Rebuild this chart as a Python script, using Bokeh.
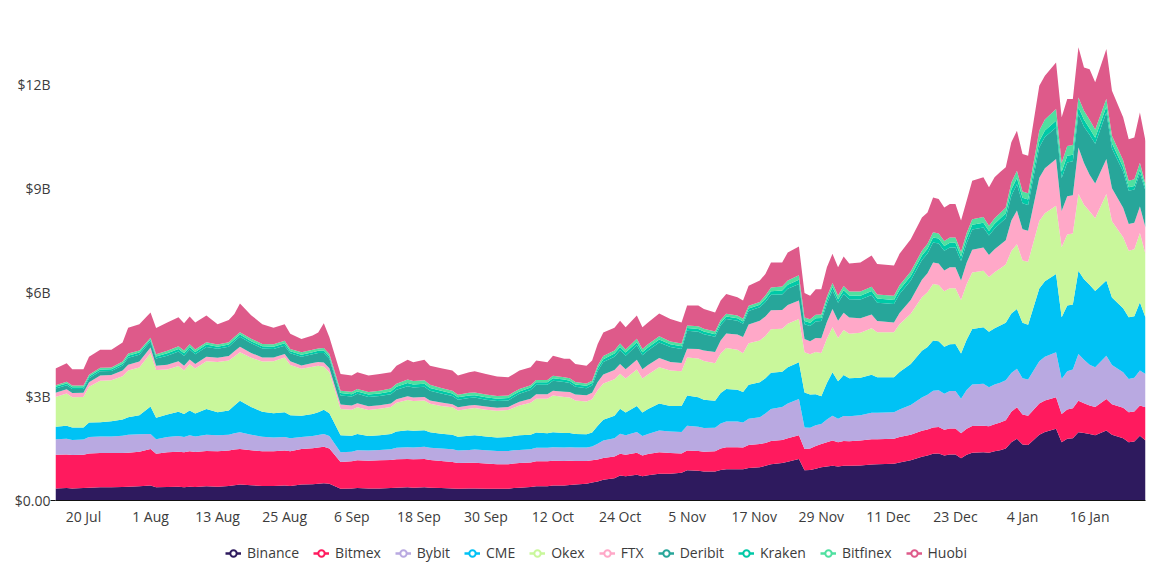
import pandas as pd
from bokeh.plotting import figure
from bokeh.layouts import column
from bokeh.models import (ColumnDataSource, Range1d, FixedTicker, Legend, LegendItem,
                          LinearAxis)
from bokeh.embed import file_html
from bokeh.resources import INLINE

# ---- data (open interest, billions of USD) ----
dates = [
    "2020-07-15","2020-07-17","2020-07-18","2020-07-20","2020-07-21","2020-07-23","2020-07-25","2020-07-27","2020-07-28","2020-07-30",
    "2020-08-01","2020-08-02","2020-08-04","2020-08-06","2020-08-07","2020-08-08","2020-08-09","2020-08-11","2020-08-13","2020-08-15",
    "2020-08-16","2020-08-17","2020-08-19","2020-08-21","2020-08-23","2020-08-25","2020-08-26","2020-08-28","2020-08-30","2020-08-31",
    "2020-09-01","2020-09-02","2020-09-04","2020-09-06","2020-09-07","2020-09-09","2020-09-11","2020-09-13","2020-09-14","2020-09-16",
    "2020-09-17","2020-09-19","2020-09-20","2020-09-22","2020-09-24","2020-09-25","2020-09-27","2020-09-28","2020-09-30","2020-10-02",
    "2020-10-04","2020-10-05","2020-10-06","2020-10-08","2020-10-09","2020-10-11","2020-10-12","2020-10-14","2020-10-15","2020-10-16",
    "2020-10-18","2020-10-19","2020-10-20","2020-10-21","2020-10-23","2020-10-24","2020-10-25","2020-10-27","2020-10-28","2020-10-29",
    "2020-10-31","2020-11-02","2020-11-04","2020-11-05","2020-11-07","2020-11-08","2020-11-10","2020-11-11","2020-11-12","2020-11-14",
    "2020-11-15","2020-11-16","2020-11-18","2020-11-19","2020-11-20","2020-11-22","2020-11-23","2020-11-25","2020-11-26","2020-11-27",
    "2020-11-28","2020-11-29","2020-11-30","2020-12-01","2020-12-02","2020-12-03","2020-12-04","2020-12-06","2020-12-08","2020-12-09",
    "2020-12-12","2020-12-13","2020-12-15","2020-12-17","2020-12-18","2020-12-19","2020-12-20","2020-12-21","2020-12-22","2020-12-23",
    "2020-12-24","2020-12-25","2020-12-26","2020-12-28","2020-12-29","2020-12-30","2020-12-31","2021-01-01","2021-01-02","2021-01-03",
    "2021-01-04","2021-01-05","2021-01-07","2021-01-08","2021-01-10","2021-01-11","2021-01-12","2021-01-13","2021-01-14","2021-01-15",
    "2021-01-16","2021-01-17","2021-01-19","2021-01-20","2021-01-22","2021-01-23","2021-01-24","2021-01-25","2021-01-26",
]

binance = [
    .35,.36,.35,.36,.37,.38,.38,.39,.40,.41,
    .43,.38,.39,.40,.38,.40,.39,.41,.40,.42,
    .44,.46,.44,.42,.42,.43,.42,.46,.47,.48,
    .50,.48,.34,.35,.36,.35,.35,.36,.37,.38,
    .37,.38,.37,.36,.35,.34,.35,.35,.34,.34,
    .34,.36,.37,.39,.41,.41,.43,.43,.45,.46,
    .48,.52,.55,.60,.64,.72,.70,.74,.70,.73,
    .77,.77,.80,.87,.86,.84,.84,.88,.90,.90,
    .90,.94,.96,1.00,1.05,1.08,1.12,1.20,.87,.88,
    .92,.96,.98,1.00,.98,1.00,1.00,1.01,1.04,1.05,
    1.06,1.10,1.16,1.26,1.30,1.35,1.36,1.30,1.33,1.33,
    1.22,1.32,1.38,1.39,1.38,1.42,1.45,1.50,1.68,1.78,
    1.62,1.60,1.90,1.98,2.07,1.68,1.78,1.80,1.97,1.95,
    1.92,1.88,2.02,1.90,1.80,1.68,1.70,1.87,1.73,
]
bitmex = [
    .97,.97,.96,.96,.99,.99,.99,.98,.98,1.00,
    1.06,.97,1.00,1.01,1.01,1.02,1.01,1.02,1.02,1.02,
    1.03,1.03,1.01,1.00,1.00,1.01,1.00,1.03,1.04,1.05,
    1.05,1.02,.77,.78,.80,.80,.81,.81,.82,.82,
    .82,.82,.80,.78,.76,.74,.74,.74,.73,.71,
    .71,.71,.71,.71,.72,.72,.72,.71,.70,.68,
    .66,.64,.63,.63,.63,.63,.62,.64,.60,.61,
    .62,.60,.56,.57,.57,.57,.58,.62,.64,.64,
    .63,.66,.67,.66,.67,.67,.68,.68,.62,.62,
    .65,.67,.70,.73,.70,.72,.71,.72,.73,.72,
    .72,.73,.74,.75,.75,.76,.76,.74,.75,.75,
    .72,.75,.77,.77,.76,.78,.80,.82,.88,.91,
    .86,.85,.90,.91,.91,.82,.85,.86,.91,.86,
    .82,.82,.91,.88,.88,.87,.87,.87,.96,
]
bybit = [
    .45,.45,.44,.44,.47,.48,.48,.50,.52,.50,
    .43,.42,.44,.45,.44,.46,.45,.47,.46,.46,
    .47,.48,.45,.42,.40,.39,.38,.34,.35,.36,
    .37,.36,.28,.28,.29,.29,.30,.31,.33,.34,
    .34,.35,.35,.36,.37,.36,.37,.38,.38,.38,
    .38,.38,.38,.38,.39,.39,.39,.39,.39,.39,
    .39,.40,.46,.50,.53,.58,.56,.60,.56,.58,
    .63,.62,.62,.72,.70,.68,.68,.72,.74,.74,
    .72,.76,.77,.85,.92,.95,1.00,1.05,.62,.60,
    .60,.58,.66,.72,.68,.72,.72,.73,.76,.76,
    .77,.80,.86,.96,1.00,1.06,1.06,1.04,1.08,1.08,
    1.00,1.12,1.20,1.21,1.13,1.15,1.15,1.15,1.12,1.11,
    1.05,1.04,1.22,1.26,1.30,1.01,1.10,1.12,1.35,1.25,
    1.18,1.15,1.25,1.13,1.02,.96,.97,1.01,.96,
]
cme = [
    .36,.38,.36,.35,.42,.41,.44,.47,.50,.55,
    .79,.62,.65,.70,.67,.72,.66,.74,.67,.70,
    .80,.91,.80,.72,.70,.72,.66,.62,.64,.66,
    .70,.66,.49,.46,.47,.42,.42,.44,.47,.49,
    .48,.48,.45,.43,.42,.40,.41,.41,.40,.39,
    .40,.41,.42,.42,.44,.42,.43,.42,.41,.39,
    .38,.40,.52,.60,.65,.72,.66,.75,.68,.72,
    .78,.74,.75,.87,.85,.82,.78,.88,.94,.92,
    .88,.98,1.01,1.02,1.05,1.02,1.05,1.06,1.01,.96,
    .90,.80,1.05,1.25,1.08,1.18,1.10,1.08,1.10,1.03,
    1.01,1.08,1.18,1.35,1.38,1.45,1.42,1.36,1.35,1.36,
    1.30,1.45,1.60,1.63,1.60,1.62,1.65,1.66,1.72,1.73,
    1.60,1.58,2.10,2.18,2.26,1.78,1.90,1.88,2.40,2.33,
    2.31,2.20,2.17,1.95,1.85,1.78,1.78,1.97,1.63,
]
okex = [
    .86,.93,.87,.88,1.03,1.20,1.18,1.25,1.35,1.38,
    1.54,1.38,1.30,1.32,1.25,1.33,1.30,1.38,1.45,1.44,
    1.42,1.40,1.42,1.45,1.50,1.58,1.45,1.35,1.36,1.34,
    1.24,1.18,.76,.75,.77,.75,.77,.78,.83,.87,
    .86,.86,.82,.80,.79,.76,.78,.79,.77,.77,
    .78,.82,.86,.92,.98,1.00,1.06,1.04,1.02,.97,
    .95,.96,1.02,1.05,1.05,1.01,.98,1.05,.98,1.00,
    1.05,1.02,1.00,1.10,1.12,1.12,1.08,1.14,1.18,1.15,
    1.12,1.20,1.21,1.22,1.25,1.24,1.25,1.25,1.16,1.16,
    1.22,1.25,1.28,1.30,1.25,1.30,1.28,1.30,1.34,1.30,
    1.30,1.38,1.45,1.55,1.58,1.63,1.62,1.60,1.62,1.61,
    1.55,1.60,1.63,1.63,1.58,1.62,1.65,1.68,1.80,1.87,
    1.80,1.82,1.95,1.96,1.97,2.02,2.05,2.05,2.22,2.15,
    2.12,2.10,2.50,2.20,2.05,1.92,1.93,2.00,1.83,
]
ftx = [
    .12,.12,.12,.12,.13,.15,.15,.16,.17,.17,
    .17,.12,.14,.14,.14,.14,.13,.13,.12,.13,
    .15,.16,.14,.12,.11,.10,.11,.10,.11,.11,
    .12,.12,.13,.12,.12,.11,.10,.10,.10,.11,
    .10,.10,.10,.10,.09,.09,.09,.09,.09,.09,
    .09,.10,.11,.12,.13,.13,.14,.15,.16,.17,
    .18,.19,.24,.26,.27,.28,.27,.28,.27,.27,
    .26,.25,.24,.25,.27,.30,.33,.38,.42,.44,
    .47,.54,.57,.56,.55,.54,.54,.53,.38,.38,
    .40,.42,.48,.53,.50,.50,.47,.42,.40,.32,
    .28,.32,.40,.50,.55,.62,.62,.60,.60,.60,
    .56,.62,.66,.67,.64,.66,.68,.70,.88,.97,
    .90,.90,1.25,1.30,1.35,1.05,1.10,1.10,1.34,1.20,
    1.05,1.00,1.01,.95,.85,.77,.77,.77,.77,
]
deribit = [
    .12,.12,.12,.11,.12,.12,.12,.15,.20,.20,
    .18,.21,.26,.28,.29,.29,.28,.28,.26,.27,
    .28,.29,.28,.26,.24,.24,.23,.25,.25,.26,
    .28,.27,.26,.26,.27,.27,.27,.27,.28,.29,
    .29,.29,.28,.26,.24,.22,.22,.21,.20,.19,
    .19,.21,.23,.25,.27,.27,.29,.28,.26,.22,
    .20,.21,.32,.36,.38,.40,.39,.42,.40,.42,
    .45,.43,.40,.52,.50,.47,.44,.44,.42,.40,
    .38,.39,.39,.42,.45,.45,.47,.48,.43,.44,
    .48,.50,.52,.53,.52,.54,.53,.54,.56,.53,
    .53,.55,.56,.57,.57,.58,.58,.57,.57,.57,
    .56,.57,.58,.58,.56,.60,.62,.64,.72,.76,
    .75,.74,.88,.90,.91,.95,.98,.98,.96,1.05,
    1.16,1.15,1.34,1.15,1.05,.96,.96,.96,1.06,
]
kraken = [
    .05,.05,.05,.05,.05,.05,.05,.05,.06,.06,
    .05,.06,.07,.07,.07,.07,.07,.07,.06,.06,
    .06,.06,.06,.06,.07,.07,.06,.06,.06,.06,
    .07,.07,.07,.07,.07,.07,.07,.08,.08,.09,
    .09,.09,.08,.08,.07,.07,.07,.07,.07,.07,
    .07,.07,.07,.07,.07,.07,.07,.07,.07,.07,
    .07,.07,.08,.08,.09,.09,.09,.09,.09,.09,
    .09,.08,.08,.08,.08,.08,.07,.07,.07,.07,
    .07,.07,.07,.09,.10,.11,.12,.12,.09,.09,
    .09,.09,.10,.10,.10,.11,.11,.11,.12,.12,
    .12,.12,.13,.13,.14,.14,.14,.14,.14,.14,
    .13,.14,.14,.14,.13,.14,.14,.14,.18,.18,
    .16,.16,.18,.19,.19,.18,.19,.19,.20,.20,
    .18,.17,.17,.15,.12,.10,.10,.10,.09,
]
bitfinex = [
    .05,.05,.05,.05,.05,.05,.05,.06,.06,.06,
    .05,.06,.07,.08,.08,.08,.07,.07,.06,.07,
    .07,.07,.07,.07,.07,.07,.06,.07,.07,.07,
    .07,.07,.07,.07,.07,.07,.08,.08,.09,.10,
    .10,.10,.09,.08,.08,.07,.08,.08,.08,.08,
    .07,.07,.07,.07,.07,.07,.07,.07,.07,.07,
    .07,.07,.08,.09,.09,.10,.09,.10,.09,.09,
    .09,.08,.08,.07,.08,.08,.08,.08,.08,.08,
    .08,.08,.08,.10,.11,.12,.12,.13,.10,.10,
    .10,.10,.11,.12,.11,.12,.11,.12,.12,.12,
    .12,.13,.13,.14,.14,.15,.15,.14,.15,.15,
    .14,.15,.16,.16,.15,.16,.16,.17,.20,.21,
    .18,.18,.30,.32,.34,.25,.28,.28,.28,.26,
    .25,.24,.23,.22,.20,.19,.19,.20,.10,
]
huobi = [
    .48,.53,.47,.47,.52,.52,.51,.55,.75,.76,
    .73,.76,.82,.84,.79,.80,.78,.77,.59,.64,
    .66,.83,.68,.57,.48,.48,.44,.38,.41,.46,
    .72,.48,.48,.47,.48,.48,.48,.47,.52,.57,
    .54,.59,.55,.57,.58,.56,.59,.61,.59,.56,
    .53,.52,.53,.52,.56,.51,.58,.53,.56,.52,
    .51,.58,.62,.68,.66,.66,.64,.67,.63,.63,
    .66,.65,.61,.58,.60,.57,.55,.56,.57,.53,
    .52,.58,.62,.62,.72,.69,.81,.83,.71,.68,
    .74,.73,.85,.84,.81,.85,.81,.84,.90,.88,
    .87,.91,.93,.96,.90,1.01,.99,.97,.97,.97,
    .90,.93,1.11,1.15,1.11,1.18,1.18,1.16,1.16,1.15,
    1.08,1.08,1.29,1.26,1.34,1.32,1.36,1.33,1.45,1.25,
    1.46,1.36,1.43,1.30,1.24,1.20,1.21,1.45,1.25,
]

series_names = ["Binance", "Bitmex", "Bybit", "CME", "Okex", "FTX",
                "Deribit", "Kraken", "Bitfinex", "Huobi"]
series_values = [binance, bitmex, bybit, cme, okex, ftx,
                 deribit, kraken, bitfinex, huobi]
colors = ["#2E1A5E", "#FF1A5E", "#B9A9E1", "#00C2F5", "#C9F79B", "#FFA8C8",
          "#27A69A", "#00C9A7", "#50E0A0", "#DE5A8A"]

x_tick_dates = ["2020-07-20", "2020-08-01", "2020-08-13", "2020-08-25", "2020-09-06",
                "2020-09-18", "2020-09-30", "2020-10-12", "2020-10-24", "2020-11-05",
                "2020-11-17", "2020-11-29", "2020-12-11", "2020-12-23", "2021-01-04",
                "2021-01-16"]
x_tick_labels = ["20 Jul", "1 Aug", "13 Aug", "25 Aug", "6 Sep", "18 Sep", "30 Sep",
                 "12 Oct", "24 Oct", "5 Nov", "17 Nov", "29 Nov", "11 Dec", "23 Dec",
                 "4 Jan", "16 Jan"]
y_ticks = [0, 3, 6, 9, 12]
y_tick_labels = ["$0.00", "$3B", "$6B", "$9B", "$12B"]

for name, vals in zip(series_names, series_values):
    assert len(vals) == len(dates), (name, len(vals), len(dates))

# ---- build ----
x = pd.to_datetime(dates)
data = {"date": x}
for name, vals in zip(series_names, series_values):
    data[name] = vals
src = ColumnDataSource(data)

FONT = "Open Sans"
TEXT = "#3c3c3c"
FS = "14px"

p = figure(width=1150, height=528, x_axis_type="datetime",
           output_backend="svg", toolbar_location=None,
           x_range=Range1d(x[0], x[-1]), y_range=Range1d(0, 14),
           min_border_left=55, min_border_right=5, min_border_top=15,
           min_border_bottom=26)

p.varea_stack(stackers=series_names, x="date", source=src, color=colors)

# x axis
tick_ms = [int(pd.Timestamp(d).value // 10**6) for d in x_tick_dates]
xax = p.below[0]
xax.ticker = FixedTicker(ticks=tick_ms)
xax.major_label_overrides = {t: lab for t, lab in zip(tick_ms, x_tick_labels)}
xax.axis_line_color = "#111111"
xax.axis_line_width = 1
xax.major_tick_line_color = None
xax.major_tick_out = 0
xax.major_tick_in = 0
xax.minor_tick_line_color = None
xax.minor_tick_out = 0
xax.major_label_standoff = 6
xax.major_label_text_font = FONT
xax.major_label_text_font_size = FS
xax.major_label_text_color = TEXT

# inner y axis: only the short tick at zero joining the baseline
yin = p.left[0]
yin.ticker = FixedTicker(ticks=[0])
yin.major_label_overrides = {0: ""}
yin.axis_line_color = None
yin.major_tick_line_color = "#111111"
yin.major_tick_out = 5
yin.major_tick_in = 0
yin.minor_tick_line_color = None
yin.minor_tick_out = 0
yin.major_label_standoff = 0
yin.major_label_text_font_size = "1px"

# outer y axis: the labels
yout = LinearAxis(ticker=FixedTicker(ticks=y_ticks),
                  major_label_overrides={t: lab for t, lab in zip(y_ticks, y_tick_labels)},
                  axis_line_color=None, major_tick_line_color=None,
                  major_tick_out=0, major_tick_in=0,
                  minor_tick_line_color=None, minor_tick_out=0,
                  major_label_standoff=0, major_label_text_font=FONT,
                  major_label_text_font_size=FS, major_label_text_color=TEXT)
p.add_layout(yout, "left")

p.xgrid.grid_line_color = None
p.ygrid.grid_line_color = None
p.outline_line_color = None
p.background_fill_color = "white"
p.border_fill_color = "white"

# ---- legend in its own strip below the chart ----
lf = figure(width=1150, height=36, output_backend="svg", toolbar_location=None,
            x_range=Range1d(0, 1), y_range=Range1d(0, 1),
            x_axis_location=None, y_axis_location=None,
            min_border_left=0, min_border_right=0, min_border_top=0,
            min_border_bottom=0)
lf.xgrid.grid_line_color = None
lf.ygrid.grid_line_color = None
lf.outline_line_color = None

# legend icon renderers: one point each, placed outside the visible range
items = []
for name, c in zip(series_names, colors):
    ln = lf.line(x=[-5, -4], y=[-5, -5], line_color=c, line_width=2.5)
    sc = lf.scatter(x=[-5], y=[-5], marker="circle", size=7, fill_color="white",
                    line_color=c, line_width=2)
    items.append(LegendItem(label=name, renderers=[ln, sc]))

legend = Legend(items=items, orientation="horizontal", location=(170, 2),
                padding=0, margin=0, spacing=14, glyph_width=16, glyph_height=16,
                label_standoff=6, label_text_font=FONT, label_text_font_size=FS,
                label_text_color=TEXT, border_line_color=None,
                background_fill_alpha=0)
lf.add_layout(legend)

layout = column(p, lf, spacing=0)
open("out.html", "w").write(file_html(layout, INLINE))
